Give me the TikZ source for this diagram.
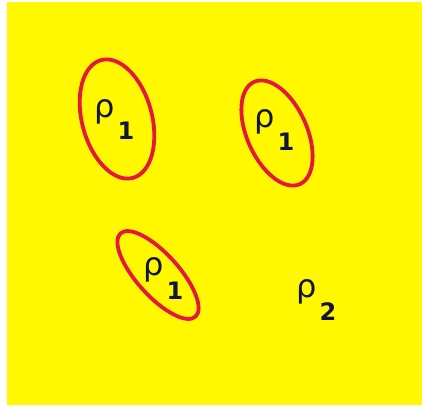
\documentclass[tikz,border=0pt]{standalone}
\usepackage{fontspec}
\setmainfont{DejaVu Sans}
\usepackage{xcolor}
\usepackage{tikz}

\definecolor{bgyellow}{RGB}{255,248,0}
\definecolor{loopred}{RGB}{228,24,62}
\definecolor{inkblue}{RGB}{18,20,58}

\begin{document}
\begin{tikzpicture}[
    x=1pt, y=1pt,
    blob/.style={draw=loopred, line width=3.8pt},
    rho/.style={inner sep=0pt, text=inkblue, font=\fontsize{32}{32}\selectfont},
    idx/.style={inner sep=0pt, text=inkblue, font=\fontsize{24}{24}\selectfont\bfseries}
  ]
    \useasboundingbox (0,0) rectangle (422,407);
    \fill[bgyellow] (7,2) rectangle (422,405);
    % the three loops
    \draw[blob] (117,288) ellipse [x radius=35, y radius=61, rotate=15];
    \draw[blob] (277,274) ellipse [x radius=30, y radius=56, rotate=24];
    \draw[blob] (158,132) ellipse [x radius=21, y radius=56, rotate=42];
    % labels
    \node[rho] (rhoa) at (105,295) {ρ};
    \node[idx] (suba) at (126,276) {1};
    \node[rho] (rhob) at (265,285) {ρ};
    \node[idx] (subb) at (286,265) {1};
    \node[rho] (rhoc) at (154,137) {ρ};
    \node[idx] (subc) at (175,116) {1};
    \node[rho] (rhod) at (307,115) {ρ};
    \node[idx] (subd) at (328,95) {2};
  \end{tikzpicture}
\end{document}
